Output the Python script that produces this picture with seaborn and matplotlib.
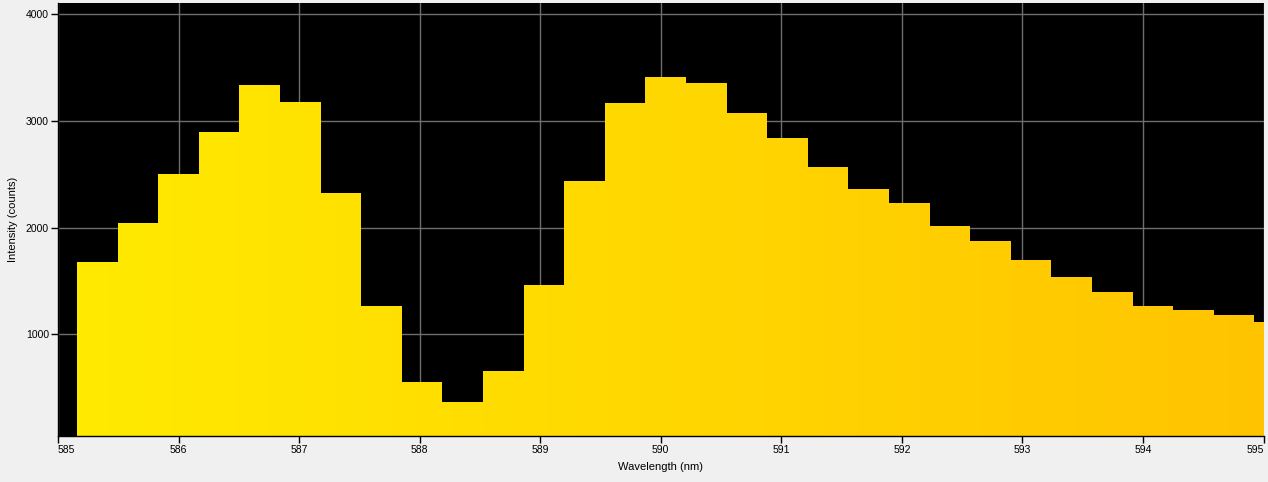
import numpy as np
import pandas as pd
import matplotlib
matplotlib.use("Agg")
import matplotlib.pyplot as plt
import seaborn as sns
from matplotlib.colors import LinearSegmentedColormap

# --- data -----------------------------------------------------------------
bin_edges = [585.158, 585.495, 585.832, 586.168, 586.505, 586.842, 587.179,
             587.516, 587.852, 588.189, 588.526, 588.863, 589.200, 589.536,
             589.873, 590.210, 590.547, 590.884, 591.220, 591.557, 591.894,
             592.231, 592.568, 592.904, 593.241, 593.578, 593.915, 594.252,
             594.588, 594.925, 595.262]
intensity = [1679, 2044, 2503, 2900, 3337, 3178, 2321, 1264, 554, 367,
             657, 1461, 2442, 3171, 3414, 3358, 3078, 2844, 2573, 2367,
             2227, 2012, 1875, 1697, 1538, 1397, 1266, 1229, 1182, 1116]
x_ticks = [585, 586, 587, 588, 589, 590, 591, 592, 593, 594, 595]
y_ticks = [1000, 2000, 3000, 4000]

centers = [(a + b) / 2 for a, b in zip(bin_edges[:-1], bin_edges[1:])]
df = pd.DataFrame({"wavelength": centers, "counts": intensity})

# --- style ----------------------------------------------------------------
sns.set_theme(style="dark")
plt.rcParams["font.family"] = ["Liberation Sans", "DejaVu Sans"]

fig = plt.figure(figsize=(12.68, 4.82), dpi=100, facecolor="#f0f0f0")
ax = fig.add_axes([58 / 1268, 46 / 482, 1205.5 / 1268, 433 / 482])
ax.set_facecolor("black")

sns.histplot(data=df, x="wavelength", weights="counts", bins=bin_edges,
             element="step", fill=True, ax=ax, color="#ffe000",
             alpha=1.0, linewidth=0, zorder=2)

xmin, xmax = 585, 595
ymin, ymax = 47, 4106
ax.set_xlim(xmin, xmax)
ax.set_ylim(ymin, ymax)

# horizontal yellow gradient clipped to the histogram shape
poly = ax.collections[0]
poly.set_visible(False)
cmap = LinearSegmentedColormap.from_list("yel", ["#ffea00", "#ffc300"])
grad = np.linspace(0, 1, 512).reshape(1, -1)
im = ax.imshow(grad, cmap=cmap, aspect="auto",
               extent=[bin_edges[0], bin_edges[-1], ymin, ymax],
               zorder=2, interpolation="bilinear")
im.set_clip_path(poly.get_paths()[0], poly.get_transform())
ax.set_xlim(xmin, xmax)
ax.set_ylim(ymin, ymax)

ax.set_xticks(x_ticks)
ax.set_yticks(y_ticks)
ax.grid(True, color="#6e6e6e", linewidth=1.0, zorder=0)
ax.set_axisbelow(True)

for s in ["top", "right"]:
    ax.spines[s].set_visible(False)
for s in ["left", "bottom"]:
    ax.spines[s].set_visible(True)
    ax.spines[s].set_color("black")
    ax.spines[s].set_linewidth(1.0)

ax.tick_params(axis="both", which="major", direction="out", length=5,
               width=1, color="black", labelsize=7.5, labelcolor="black",
               pad=1.5, bottom=True, left=True)

xlabels = ax.get_xticklabels()
xlabels[0].set_horizontalalignment("left")
xlabels[-1].set_horizontalalignment("right")

ax.set_xlabel("Wavelength (nm)", fontsize=8, color="black", labelpad=5)
ax.set_ylabel("Intensity (counts)", fontsize=8, color="black", labelpad=6)

fig.savefig("out.png", dpi=100, facecolor=fig.get_facecolor())
